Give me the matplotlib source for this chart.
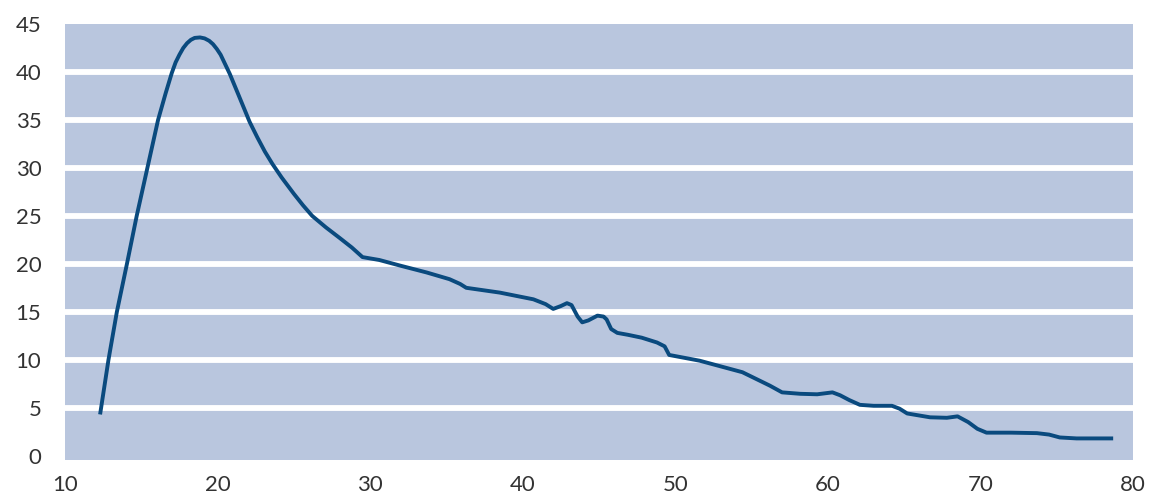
import matplotlib
matplotlib.use("Agg")
import matplotlib.pyplot as plt

x_vals = [12.3, 12.85, 13.4, 14.06, 14.7, 15.4, 16.1, 16.6, 17.0, 17.25, 17.5, 17.75, 18.0,
          18.25, 18.5, 18.85, 19.15, 19.45, 19.7, 19.95, 20.2, 20.5, 20.8, 21.4, 22.1,
          22.6, 23.1, 23.6, 24.2, 25.0, 25.6, 26.2, 27.1, 28.0, 28.8, 29.5,
          30.6, 32.0, 33.7, 35.2, 35.9, 36.3, 38.5, 40.7, 41.5, 42.0, 42.5, 42.9, 43.2,
          43.6, 43.9, 44.3, 44.9, 45.3, 45.5, 45.8, 46.2, 46.9, 47.8, 48.8, 49.3, 49.6,
          51.6, 54.4, 56.2, 57.0, 58.2, 59.3, 60.3, 60.8, 61.4, 62.1, 63.0, 64.2, 64.7,
          65.2, 66.7, 67.8, 68.5, 69.2, 69.8, 70.4, 72.0, 73.7, 74.5, 75.2, 76.3, 78.7]
y_vals = [4.3, 10.0, 15.0, 20.0, 25.0, 30.0, 35.0, 37.8, 39.9, 41.0, 41.8, 42.5, 43.0,
          43.35, 43.55, 43.6, 43.5, 43.25, 42.9, 42.4, 41.8, 40.8, 39.8, 37.5, 34.8,
          33.2, 31.7, 30.4, 29.0, 27.3, 26.1, 25.0, 23.8, 22.7, 21.7, 20.7,
          20.4, 19.8, 19.1, 18.4, 17.9, 17.5, 17.0, 16.3, 15.8, 15.3, 15.6, 15.9, 15.7,
          14.5, 13.9, 14.1, 14.6, 14.5, 14.2, 13.2, 12.8, 12.6, 12.3, 11.8, 11.4, 10.5,
          9.9, 8.7, 7.3, 6.6, 6.45, 6.4, 6.6, 6.3, 5.8, 5.3, 5.2, 5.2, 4.9,
          4.4, 4.0, 3.95, 4.1, 3.5, 2.8, 2.4, 2.4, 2.35, 2.2, 1.9, 1.8, 1.8]

x_ticks = [10, 20, 30, 40, 50, 60, 70, 80]
y_ticks = [0, 5, 10, 15, 20, 25, 30, 35, 40, 45]

fig = plt.figure(figsize=(11.55, 4.98), dpi=100)
ax = fig.add_axes([65/1155, 38/498, (1133-65)/1155, (460-24)/498])
ax.set_facecolor("#B9C6DE")
ax.set_xlim(10, 80)
ax.set_ylim(-0.45, 44.45)

for g in y_ticks[1:-1]:
    ax.axhline(g, color="white", lw=4.2, zorder=1)

ax.plot(x_vals, y_vals, color="#0A4A7E", lw=2.8, zorder=3,
        solid_joinstyle="round", solid_capstyle="butt")

for s in ax.spines.values():
    s.set_visible(False)

ax.set_xticks(x_ticks)
ax.set_yticks(y_ticks)
ax.set_xticklabels([str(t) for t in x_ticks])
ax.set_yticklabels([str(t) for t in y_ticks])
ax.tick_params(axis="both", length=0, labelsize=16, labelcolor="#333333")
ax.tick_params(axis="y", pad=17)
ax.tick_params(axis="x", pad=11)
for lab in ax.get_xticklabels() + ax.get_yticklabels():
    lab.set_family("Lato")

fig.savefig("out.png", dpi=100, facecolor="white")
